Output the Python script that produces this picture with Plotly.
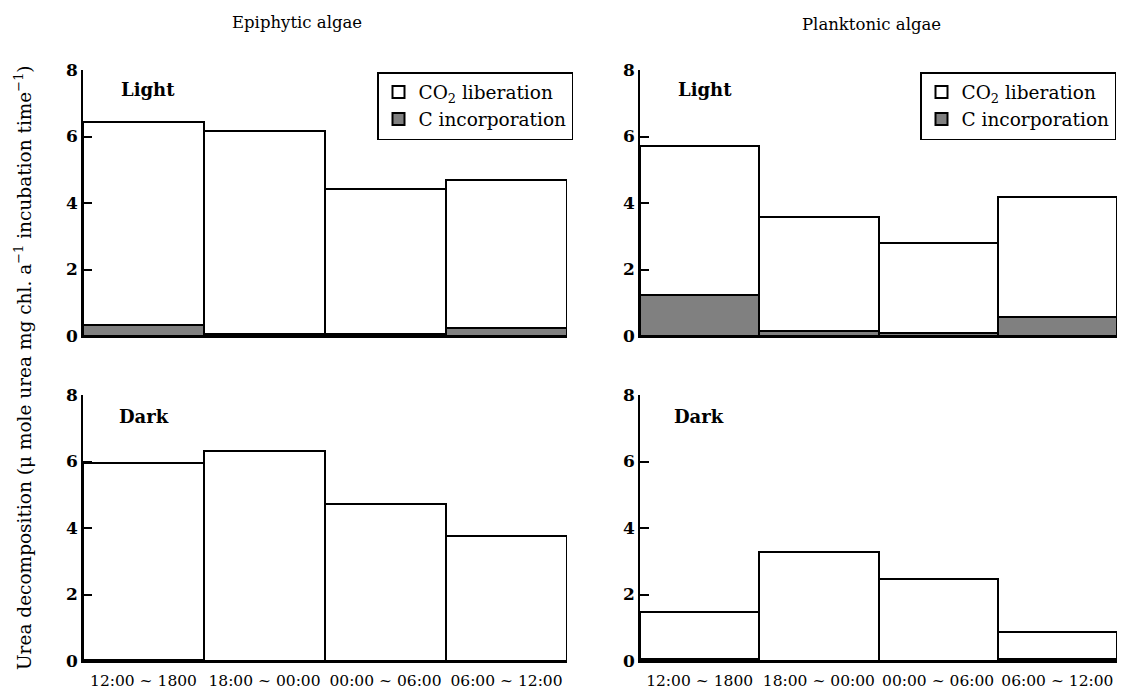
import plotly.graph_objects as go

periods = ["12:00 ~ 1800", "18:00 ~ 00:00", "00:00 ~ 06:00", "06:00 ~ 12:00"]

epi_light_co2 = [6.43, 6.16, 4.42, 4.68]
epi_light_c = [0.32, 0.07, 0.05, 0.25]
epi_dark_co2 = [5.96, 6.32, 4.73, 3.77]
epi_dark_c = [0.02, 0.0, 0.0, 0.0]
plk_light_co2 = [5.70, 3.57, 2.80, 4.17]
plk_light_c = [1.24, 0.16, 0.10, 0.57]
plk_dark_co2 = [1.47, 3.27, 2.46, 0.88]
plk_dark_c = [0.06, 0.0, 0.0, 0.07]

y_ticks = [0, 2, 4, 6, 8]

FONT = "DejaVu Serif"
W, H = 1128, 694
OFF = 8  # page body margin

fig = go.Figure()

panels = [
    ("x", "y", epi_light_co2, epi_light_c, "legend", True),
    ("x2", "y2", plk_light_co2, plk_light_c, "legend2", True),
    ("x3", "y3", epi_dark_co2, epi_dark_c, None, False),
    ("x4", "y4", plk_dark_co2, plk_dark_c, None, False),
]

xs = list(range(len(periods)))
for xa, ya, co2, c, leg, show in panels:
    fig.add_trace(go.Bar(
        x=xs, y=co2, xaxis=xa, yaxis=ya, width=1,
        marker=dict(color="white", line=dict(color="black", width=2)),
        name="CO<sub>2</sub> liberation", showlegend=show,
        legend=leg if leg else "legend",
    ))
    fig.add_trace(go.Bar(
        x=xs, y=c, xaxis=xa, yaxis=ya, width=1,
        marker=dict(color="#808080", line=dict(color="black", width=2)),
        name="C incorporation", showlegend=show,
        legend=leg if leg else "legend",
    ))

def px_x(p):
    return (p - OFF) / W

def px_y(p):
    return 1 - (p - OFF) / H

left_dom = [px_x(83), px_x(567)]
right_dom = [px_x(640), px_x(1117)]
top_dom = [px_y(336), px_y(70)]
bot_dom = [px_y(661), px_y(395)]

xcommon = dict(range=[-0.5, 3.5], showline=True, linecolor="black", linewidth=2,
               ticks="", showgrid=False, zeroline=False, tickmode="array",
               tickvals=xs, ticktext=periods, automargin=False,
               ticklabelstandoff=4,
               tickfont=dict(family=FONT, size=15.5, color="black"))
ycommon = dict(range=[0, 8], showline=True, linecolor="black", linewidth=1.5,
               ticks="inside", ticklen=9, tickwidth=1.5, tickcolor="black",
               tickvals=y_ticks, showgrid=False, zeroline=False, automargin=False,
               tickfont=dict(family=FONT, size=17, color="black", weight="bold"))

legfont = dict(family=FONT, size=18.5, color="black")

fig.update_layout(
    width=W, height=H,
    margin=dict(l=0, r=0, t=0, b=0, autoexpand=False),
    paper_bgcolor="white", plot_bgcolor="white",
    barmode="overlay", bargap=0,
    font=dict(family=FONT, color="black"),
    xaxis=dict(domain=left_dom, anchor="y", showticklabels=False, **xcommon),
    yaxis=dict(domain=top_dom, anchor="x", **ycommon),
    xaxis2=dict(domain=right_dom, anchor="y2", showticklabels=False, **xcommon),
    yaxis2=dict(domain=top_dom, anchor="x2", **ycommon),
    xaxis3=dict(domain=left_dom, anchor="y3", showticklabels=True, **xcommon),
    yaxis3=dict(domain=bot_dom, anchor="x3", **ycommon),
    xaxis4=dict(domain=right_dom, anchor="y4", showticklabels=True, **xcommon),
    yaxis4=dict(domain=bot_dom, anchor="x4", **ycommon),
    legend=dict(x=px_x(377), y=px_y(72), xanchor="left", yanchor="top",
                bordercolor="black", borderwidth=1.5, bgcolor="white",
                font=legfont, tracegroupgap=0, itemsizing="constant",
                itemwidth=30),
    legend2=dict(x=px_x(920), y=px_y(72), xanchor="left", yanchor="top",
                 bordercolor="black", borderwidth=1.5, bgcolor="white",
                 font=legfont, tracegroupgap=0, itemsizing="constant",
                 itemwidth=30),
)

anns = [
    dict(text="Epiphytic algae", x=px_x(297), y=px_y(22), size=16.5),
    dict(text="Planktonic algae", x=px_x(871), y=px_y(25), size=16.5),
    dict(text="<b>Light</b>", x=px_x(148), y=px_y(90), size=18),
    dict(text="<b>Light</b>", x=px_x(705), y=px_y(90), size=18),
    dict(text="<b>Dark</b>", x=px_x(144), y=px_y(416), size=18),
    dict(text="<b>Dark</b>", x=px_x(699), y=px_y(416), size=18),
]
for a in anns:
    size = a.pop("size")
    fig.add_annotation(xref="paper", yref="paper", showarrow=False,
                       xanchor="center", yanchor="middle",
                       font=dict(family=FONT, size=size, color="black"), **a)

fig.add_annotation(
    xref="paper", yref="paper", x=px_x(23), y=px_y(368), showarrow=False,
    textangle=-90, xanchor="center", yanchor="middle",
    text="Urea decomposition (μ mole urea mg chl. a<sup>−1</sup> incubation time<sup>−1</sup>)",
    font=dict(family=FONT, size=18.5, color="black"),
)

fig.write_html("out.html")
